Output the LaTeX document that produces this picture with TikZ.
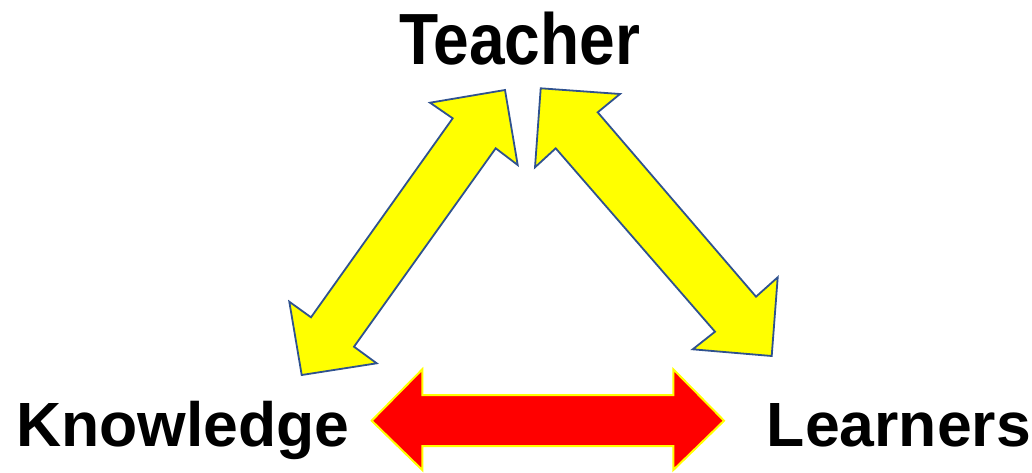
\documentclass[tikz,border=0pt]{standalone}
\usepackage{fontspec}
\setmainfont{Liberation Sans}
\definecolor{arrowblue}{HTML}{2F528F}
\definecolor{ylw}{HTML}{FFFF00}
\definecolor{rd}{HTML}{FF0000}
\begin{document}
\begin{tikzpicture}[x=1pt,y=-1pt,
  lbl/.style={anchor=base,inner sep=0pt,font=\fontsize{62.5}{70}\selectfont\bfseries},
  yarrow/.style={fill=ylw,draw=arrowblue,line width=1.8pt,line join=miter},
  rarrow/.style={fill=rd,draw=ylw,line width=2pt,line join=miter}]
\useasboundingbox (0,0) rectangle (1032,472);
% labels
\node[lbl] (teacher) at (519.5,64) {\scalebox{1.025}[1.16]{Teacher}};
\node[lbl] (knowledge) at (183,446) {Knowledge};
\node[lbl] (learners) at (899,446) {Learners};
% Teacher <-> Knowledge
\draw[yarrow] (505,90) -- (430,102.7) -- (452.7,118.3) -- (311,317.3) -- (289.3,301.7)
  -- (301.7,375) -- (376.7,363.3) -- (354,346.7) -- (495.7,148.3) -- (517.7,165) -- cycle;
% Teacher <-> Learners
\draw[yarrow] (540.7,88.3) -- (620,94) -- (597.7,112.3) -- (756,296.7) -- (777.7,277.3)
  -- (771.7,356) -- (692.7,349.3) -- (715,331.7) -- (555.7,148.3) -- (535,167.3) -- cycle;
% Knowledge <-> Learners
\draw[rarrow] (371.7,420.7) -- (422.3,369.3) -- (422.3,395) -- (673.3,395) -- (673.3,369.3)
  -- (724,420.7) -- (673.3,470) -- (673.3,446) -- (422.3,446) -- (422.3,470) -- cycle;
\end{tikzpicture}
\end{document}
